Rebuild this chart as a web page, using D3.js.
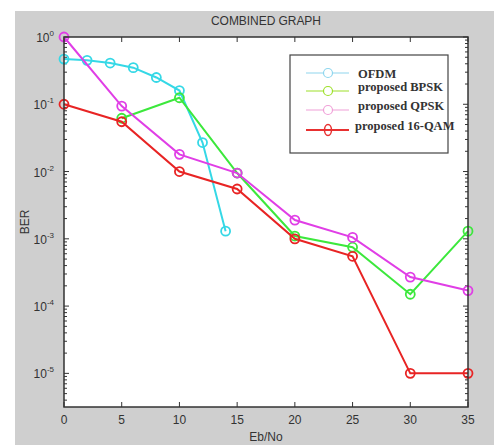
<html>
<head>
<script src="https://d3js.org/d3.v7.min.js"></script>
<style>
  body { margin: 0; background: #fff; }
  svg { font-family: Arial, "Liberation Sans", sans-serif; }
  .leg text { font-family: "Liberation Serif", "DejaVu Serif", serif; font-size: 12.5px; font-weight: bold; fill: #333; }
</style>
</head>
<body>
<div id="chart"></div>
<script>
// Eb/No values and BER series
var ofdmX = [0, 2, 4, 6, 8, 10, 12, 14];
var ofdmY = [0.47, 0.45, 0.41, 0.35, 0.25, 0.16, 0.027, 0.0013];
var snrX = [0, 5, 10, 15, 20, 25, 30, 35];
var bpskX = [5, 10, 15, 20, 25, 30, 35];
var bpskY = [0.062, 0.125, 0.0095, 0.0011, 0.00075, 0.00015, 0.0013];
var qpskY = [1.0, 0.094, 0.018, 0.0095, 0.0019, 0.00105, 0.00027, 0.00017];
var qamY = [0.1, 0.055, 0.01, 0.0055, 0.001, 0.00055, 0.00001, 0.00001];
var xTicks = [0, 5, 10, 15, 20, 25, 30, 35];
var yExp = [0, -1, -2, -3, -4, -5];

var series = [
  { name: "OFDM", x: ofdmX, y: ofdmY, color: "#35d8e6", legColor: "#8fd6ee" },
  { name: "proposed BPSK", x: bpskX, y: bpskY, color: "#3ce83c", legColor: "#9ee02a" },
  { name: "proposed QPSK", x: snrX, y: qpskY, color: "#e03ee6", legColor: "#f0a0d8" },
  { name: "proposed 16-QAM", x: snrX, y: qamY, color: "#e82424", legColor: "#e83030" }
];

var W = 494, H = 445;
var pL = 64, pR = 468, pT = 37, pB = 407;

var svg = d3.select("#chart").append("svg").attr("width", W).attr("height", H);
svg.append("rect").attr("x", 15).attr("y", 11).attr("width", W - 15).attr("height", H - 11).attr("fill", "#cfcfcf");
svg.append("rect").attr("x", pL).attr("y", pT).attr("width", pR - pL).attr("height", pB - pT).attr("fill", "#fff");

var x = d3.scaleLinear().domain([0, 35]).range([pL, pR]);
var y = d3.scaleLog().domain([Math.pow(10, -5.5), 1]).range([pB, pT]);

// minor log ticks
var minor = [];
for (var e = -6; e < 0; e++) {
  for (var m = 1; m < 10; m++) {
    var v = m * Math.pow(10, e);
    if (v >= Math.pow(10, -5.5) && v <= 1) minor.push(v);
  }
}
minor.push(1);

var g = svg.append("g").attr("stroke", "#333").attr("stroke-width", 1);
minor.forEach(function(v) {
  var major = Math.abs(Math.log10(v) - Math.round(Math.log10(v))) < 1e-9;
  var len = major ? 5 : 3;
  g.append("line").attr("x1", pL).attr("x2", pL + len).attr("y1", y(v)).attr("y2", y(v));
  g.append("line").attr("x1", pR).attr("x2", pR - len).attr("y1", y(v)).attr("y2", y(v));
});
xTicks.forEach(function(t) {
  g.append("line").attr("x1", x(t)).attr("x2", x(t)).attr("y1", pB).attr("y2", pB - 5);
  g.append("line").attr("x1", x(t)).attr("x2", x(t)).attr("y1", pT).attr("y2", pT + 5);
});

// y tick labels 10^n
yExp.forEach(function(e) {
  var t = svg.append("text").attr("x", 54).attr("y", y(Math.pow(10, e)) + 5)
    .attr("text-anchor", "end").attr("font-size", 12).attr("fill", "#333");
  t.append("tspan").text("10");
  t.append("tspan").attr("font-size", 8).attr("dy", -6).text(e);
});

// x tick labels
xTicks.forEach(function(t) {
  svg.append("text").attr("x", x(t)).attr("y", 424).attr("text-anchor", "middle")
    .attr("font-size", 12).attr("fill", "#333").text(t);
});

svg.append("text").attr("x", (pL + pR) / 2).attr("y", 441).attr("text-anchor", "middle")
  .attr("font-size", 12).attr("fill", "#333").text("Eb/No");
svg.append("text").attr("transform", "translate(29," + ((pT + pB) / 2) + ") rotate(-90)")
  .attr("text-anchor", "middle").attr("font-size", 12).attr("fill", "#333").text("BER");
svg.append("text").attr("x", (pL + pR) / 2).attr("y", 25).attr("text-anchor", "middle")
  .attr("font-size", 12).attr("fill", "#333").attr("textLength", 110).text("COMBINED GRAPH");

// lines
var line = d3.line().x(function(d) { return x(d[0]); }).y(function(d) { return y(d[1]); });
var plot = svg.append("g");
series.forEach(function(s) {
  var pts = s.x.map(function(v, i) { return [v, s.y[i]]; });
  plot.append("path").attr("d", line(pts)).attr("fill", "none")
    .attr("stroke", s.color).attr("stroke-width", 2);
  plot.selectAll(null).data(pts).enter().append("circle")
    .attr("cx", function(d) { return x(d[0]); }).attr("cy", function(d) { return y(d[1]); })
    .attr("r", 4.5).attr("fill", "none").attr("stroke", s.color).attr("stroke-width", 1.8);
});

// axes box
svg.append("rect").attr("x", pL).attr("y", pT).attr("width", pR - pL).attr("height", pB - pT)
  .attr("fill", "none").attr("stroke", "#333").attr("stroke-width", 1.5);

// legend
var leg = svg.append("g").attr("class", "leg");
leg.append("rect").attr("x", 290).attr("y", 55).attr("width", 158).attr("height", 98)
  .attr("fill", "#fff").attr("stroke", "#444").attr("stroke-width", 1.2);
var legY = [73, 91, 110, 130];
series.forEach(function(s, i) {
  leg.append("line").attr("x1", 306).attr("x2", 349).attr("y1", legY[i]).attr("y2", legY[i])
    .attr("stroke", s.legColor).attr("stroke-width", i === 3 ? 2 : 1.2);
  if (i === 3) {
    leg.append("ellipse").attr("cx", 328).attr("cy", legY[i]).attr("rx", 3.5).attr("ry", 5.5)
      .attr("fill", "none").attr("stroke", s.legColor).attr("stroke-width", 1.5);
  } else {
    leg.append("circle").attr("cx", 328).attr("cy", legY[i]).attr("r", 4.5)
      .attr("fill", "#fff").attr("stroke", s.legColor).attr("stroke-width", 1.2);
  }
  leg.append("text").attr("x", i === 3 ? 355 : 358).attr("y", legY[i] + (i === 0 ? 5 : 0)).text(s.name);
});
</script>
</body>
</html>
